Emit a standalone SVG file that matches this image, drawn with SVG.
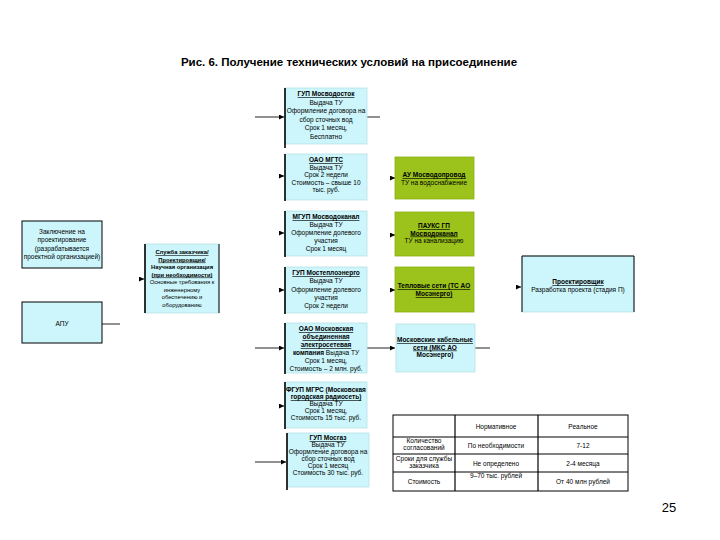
<svg xmlns="http://www.w3.org/2000/svg" width="720" height="540" viewBox="0 0 720 540">
<defs>
<marker id="ah" viewBox="0 0 6 6" refX="6" refY="3" markerWidth="5" markerHeight="5" orient="auto" markerUnits="userSpaceOnUse">
<path d="M0,0 L6,3 L0,6 Z" fill="#000"/>
</marker>
<style>
text{font-family:"Liberation Sans",Arial,sans-serif;fill:#000;}
.t{font-size:11.5px;font-weight:bold;}
.s{font-size:6.5px;text-anchor:middle;}
.xs{font-size:5.8px;}
.b{font-weight:bold;}
.u{font-weight:bold;text-decoration:underline;}
.blue{fill:#ccf6fb;stroke:#b8e0e8;stroke-width:0.8;}
.green{fill:#9bc31c;stroke:#8ab010;stroke-width:0.8;}
.edge{stroke:#000;stroke-width:1.6;}
.ln{stroke:#222;stroke-width:1;fill:none;}
.frame{fill:#ccf6fb;stroke:#000;stroke-width:1;}
.tb{fill:#fff;stroke:#000;stroke-width:1;}
</style>
</defs>
<rect width="720" height="540" fill="#fff"/>
<text class="t" x="349" y="66" text-anchor="middle">Рис. 6. Получение технических условий на присоединение</text>

<g id="connectors">
<line class="ln" x1="255" y1="117" x2="284" y2="117" marker-end="url(#ah)"/>
<line class="ln" x1="367" y1="117" x2="380" y2="117"/>
<line class="ln" x1="280" y1="176" x2="284" y2="176" marker-end="url(#ah)"/>
<line class="ln" x1="390" y1="178" x2="395" y2="178" marker-end="url(#ah)"/>
<line class="ln" x1="280" y1="233" x2="284" y2="233" marker-end="url(#ah)"/>
<line class="ln" x1="390" y1="235" x2="395" y2="235" marker-end="url(#ah)"/>
<line class="ln" x1="280" y1="290" x2="284" y2="290" marker-end="url(#ah)"/>
<line class="ln" x1="390" y1="290" x2="395" y2="290" marker-end="url(#ah)"/>
<line class="ln" x1="255" y1="348" x2="284" y2="348" marker-end="url(#ah)"/>
<line class="ln" x1="367" y1="348" x2="395" y2="348" marker-end="url(#ah)"/>
<line class="ln" x1="475" y1="348" x2="490" y2="348"/>
<line class="ln" x1="280" y1="406" x2="284" y2="406" marker-end="url(#ah)"/>
<line class="ln" x1="255" y1="462" x2="286" y2="462" marker-end="url(#ah)"/>
<line class="ln" x1="139" y1="279" x2="144" y2="279" marker-end="url(#ah)"/>
<line class="ln" x1="102" y1="324" x2="120" y2="324"/>
<line class="ln" x1="516" y1="287" x2="521" y2="287" marker-end="url(#ah)"/>
</g>

<g id="n-mosvodostok">
<rect class="blue" x="285" y="88" width="82" height="56"/>
<line class="edge" x1="285" y1="88" x2="285" y2="148"/>
<text class="s" x="326" y="96"><tspan class="u">ГУП Мосводосток</tspan><tspan x="326" dy="8.5">Выдача ТУ</tspan><tspan x="326" dy="8.5">Оформление договора на</tspan><tspan x="326" dy="8.5">сбор сточных вод</tspan><tspan x="326" dy="8.5">Срок 1 месяц,</tspan><tspan x="326" dy="8.5">Бесплатно</tspan></text>
</g>

<g id="n-mgts">
<rect class="blue" x="285" y="154" width="82" height="46"/>
<line class="edge" x1="285" y1="154" x2="285" y2="201"/>
<text class="s" x="326" y="162"><tspan class="u">ОАО МГТС</tspan><tspan x="326" dy="7.5">Выдача ТУ</tspan><tspan x="326" dy="7.5">Срок 2 недели</tspan><tspan x="326" dy="7.5">Стоимость – свыше 10</tspan><tspan x="326" dy="7.5">тыс. руб.</tspan></text>
</g>

<g id="n-mosvodoprovod">
<rect class="green" x="395" y="157" width="79" height="42"/>
<text class="s" x="434" y="177"><tspan class="u">АУ Мосводопровод</tspan><tspan x="434" dy="8">ТУ на водоснабжение</tspan></text>
</g>

<g id="n-mgup">
<rect class="blue" x="285" y="211" width="82" height="45"/>
<line class="edge" x1="285" y1="211" x2="285" y2="257"/>
<text class="s" x="326" y="219"><tspan class="u">МГУП Мосводоканал</tspan><tspan x="326" dy="8">Выдача ТУ</tspan><tspan x="326" dy="8">Оформление долевого</tspan><tspan x="326" dy="8">участия</tspan><tspan x="326" dy="8">Срок 1 месяц</tspan></text>
</g>

<g id="n-pauks">
<rect class="green" x="395" y="212" width="79" height="44"/>
<text class="s" x="434" y="228"><tspan class="u">ПАУКС ГП</tspan><tspan x="434" dy="7.5" class="u">Мосводоканал</tspan><tspan x="434" dy="7.5">ТУ на канализацию</tspan></text>
</g>

<g id="n-mosteplo">
<rect class="blue" x="285" y="267" width="82" height="46"/>
<line class="edge" x1="285" y1="267" x2="285" y2="314"/>
<text class="s" x="326" y="275"><tspan class="u">ГУП Мостеплоэнерго</tspan><tspan x="326" dy="8.3">Выдача ТУ</tspan><tspan x="326" dy="8.3">Оформление долевого</tspan><tspan x="326" dy="8.3">участия</tspan><tspan x="326" dy="8.3">Срок 2 недели</tspan></text>
</g>

<g id="n-teploset">
<rect class="green" x="395" y="267" width="79" height="45"/>
<text class="s" x="434" y="288"><tspan class="u">Тепловые сети (ТС АО</tspan><tspan x="434" dy="8" class="u">Мосэнерго)</tspan></text>
</g>

<g id="n-moesk">
<rect class="blue" x="285" y="323" width="82" height="50"/>
<line class="edge" x1="285" y1="323" x2="285" y2="374"/>
<text class="s" x="326" y="331"><tspan class="u">ОАО Московская</tspan><tspan x="326" dy="8" class="u">объединенная</tspan><tspan x="326" dy="8" class="u">электросетевая</tspan><tspan x="326" dy="8"><tspan class="b">компания</tspan> Выдача ТУ</tspan><tspan x="326" dy="8">Срок 1 месяц,</tspan><tspan x="326" dy="8">Стоимость – 2 млн. руб.</tspan></text>
</g>

<g id="n-mks">
<rect class="blue" x="396" y="324" width="79" height="48"/>
<text class="s" x="435" y="342"><tspan class="u">Московские кабельные</tspan><tspan x="435" dy="7.5" class="u">сети (МКС АО</tspan><tspan x="435" dy="7.5" class="b">Мосэнерго)</tspan></text>
</g>

<g id="n-mgrs">
<rect class="blue" x="285" y="382" width="82" height="46"/>
<line class="edge" x1="285" y1="382" x2="285" y2="429"/>
<text class="s" x="326" y="392"><tspan class="b">ФГУП МГРС (Московская</tspan><tspan x="326" dy="7" class="u">городская радиосеть)</tspan><tspan x="326" dy="7">Выдача ТУ</tspan><tspan x="326" dy="7">Срок 1 месяц,</tspan><tspan x="326" dy="7">Стоимость 15 тыс. руб.</tspan></text>
</g>

<g id="n-mosgaz">
<rect class="blue" x="287" y="433" width="82" height="54"/>
<line class="edge" x1="287" y1="433" x2="287" y2="490"/>
<text class="s" x="328" y="440"><tspan class="u">ГУП Мосгаз</tspan><tspan x="328" dy="7">Выдача ТУ</tspan><tspan x="328" dy="7">Оформление договора на</tspan><tspan x="328" dy="7">сбор сточных вод</tspan><tspan x="328" dy="7">Срок 1 месяц</tspan><tspan x="328" dy="7">Стоимость 30 тыс. руб.</tspan></text>
</g>

<g id="n-zakl">
<rect class="frame" x="22" y="221" width="80" height="47"/>
<text class="s" x="62" y="234"><tspan>Заключение на</tspan><tspan x="62" dy="8.3">проектирование</tspan><tspan x="62" dy="8.3">(разрабатывается</tspan><tspan x="62" dy="8.3">проектной организацией)</tspan></text>
</g>

<g id="n-apu">
<rect class="frame" x="22" y="302" width="80" height="41"/>
<text class="s" x="62" y="326">АПУ</text>
</g>

<g id="n-sluzhba">
<rect class="blue" x="145" y="244" width="74" height="69"/>
<line class="edge" x1="145" y1="244" x2="145" y2="313"/>
<line x1="219" y1="244" x2="219" y2="313" stroke="#000" stroke-width="1"/>
<text class="s xs" x="182" y="254"><tspan class="u">Служба заказчика/</tspan><tspan x="182" dy="7.5" class="u">Проектировщик/</tspan><tspan x="182" dy="7.5" class="b">Научная организация</tspan><tspan x="182" dy="7.5" class="u">(при необходимости)</tspan><tspan x="182" dy="7.5">Основные требования к</tspan><tspan x="182" dy="7.5">инженерному</tspan><tspan x="182" dy="7.5">обеспечению и</tspan><tspan x="182" dy="7.5">оборудованию</tspan></text>
</g>

<g id="n-proekt">
<rect class="blue" x="522" y="256" width="112" height="56"/>
<line x1="522" y1="256" x2="634" y2="256" stroke="#000" stroke-width="1"/>
<line x1="522" y1="256" x2="522" y2="312" stroke="#000" stroke-width="1"/>
<line x1="634" y1="256" x2="634" y2="312" stroke="#000" stroke-width="1"/>
<text class="s" x="578" y="284"><tspan class="u">Проектировщик</tspan><tspan x="578" dy="7.5">Разработка проекта (стадия П)</tspan></text>
</g>

<g id="table">
<rect class="tb" x="393" y="415" width="235" height="76" stroke-width="2"/>
<line x1="393" y1="437" x2="628" y2="437" stroke="#000" stroke-width="1"/>
<line x1="393" y1="454" x2="628" y2="454" stroke="#000" stroke-width="1"/>
<line x1="393" y1="472" x2="628" y2="472" stroke="#000" stroke-width="1"/>
<line x1="455" y1="415" x2="455" y2="491" stroke="#000" stroke-width="1.2"/>
<line x1="538" y1="415" x2="538" y2="491" stroke="#000" stroke-width="1.2"/>
<text class="s" x="496" y="429">Нормативное</text>
<text class="s" x="583" y="429">Реальное</text>
<text class="s" x="424" y="443"><tspan>Количество</tspan><tspan x="424" dy="7">согласований</tspan></text>
<text class="s" x="496" y="448">По необходимости</text>
<text class="s" x="583" y="448">7-12</text>
<text class="s" x="424" y="461"><tspan>Сроки для службы</tspan><tspan x="424" dy="7">заказчика</tspan></text>
<text class="s" x="496" y="466">Не определено</text>
<text class="s" x="583" y="466">2-4 месяца</text>
<text class="s" x="424" y="484">Стоимость</text>
<text class="s" x="496" y="478">9–70 тыс. рублей</text>
<text class="s" x="583" y="484">От 40 млн рублей</text>
</g>

<text x="669" y="512" font-size="13" text-anchor="middle">25</text>
</svg>
